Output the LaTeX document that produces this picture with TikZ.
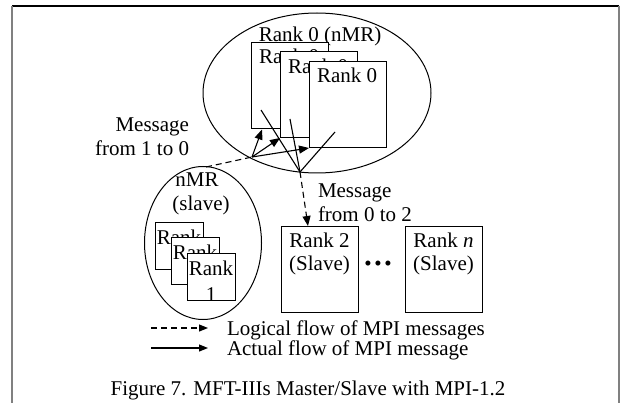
\documentclass[tikz,border=0pt]{standalone}
\usepackage{fontspec}
\setmainfont{Liberation Serif}
\usetikzlibrary{arrows.meta,shapes.geometric}
\begin{document}
\begin{tikzpicture}[x=1pt,y=-1pt,
  every node/.style={font=\fontsize{21}{26}\selectfont, inner sep=0pt, outer sep=0pt},
  box/.style={draw, fill=white, line width=1pt, anchor=north west, minimum width=77pt, minimum height=86pt},
  sbox/.style={draw, fill=white, line width=1pt, anchor=north west, minimum width=48pt, minimum height=47pt},
  ell/.style={draw, ellipse, line width=1pt},
  ln/.style={line width=1.1pt},
  tip/.style={-{Triangle[length=10pt,width=8pt]}},
  ltip/.style={-{Triangle[length=9pt,width=7pt]}},
  dsh/.style={dash pattern=on 6pt off 4pt, line width=1.1pt}]
\useasboundingbox (0,0) rectangle (620,403);
% frame
\draw[line width=1.5pt] (12,6) -- (619,6);
\draw[gray, line width=1.5pt] (12,6) -- (12,403);
\draw[gray, line width=1.5pt] (619,6) -- (619,403);
% master ellipse
\node[ell, minimum width=228pt, minimum height=160pt] (top) at (317,93) {};
\node[anchor=base] (toplbl) at (320,42) {Rank 0 (nMR)};
\node[box] (r0a) at (251,43) {};
\node[anchor=base west] (t0a) at (259,64) {Rank 0};
\node[box] (r0b) at (280,52) {};
\node[anchor=base west] (t0b) at (288,74) {Rank 0};
\node[box] (r0c) at (309,62) {};
\node[anchor=base west] (t0c) at (317,83) {Rank 0};
% slave ellipse
\node[ell, minimum width=117pt, minimum height=153pt] (slave) at (203,243) {};
\node[anchor=base] (sl1) at (197,187) {nMR};
\node[anchor=base] (sl2) at (201,211) {(slave)};
\node[sbox] (s1) at (155,222) {};
\node[anchor=base] (ts1a) at (179,244) {Rank};
\node[anchor=base] (ts1b) at (179,270) {1};
\node[sbox] (s2) at (171,237) {};
\node[anchor=base] (ts2a) at (195,259) {Rank};
\node[anchor=base] (ts2b) at (195,285) {1};
\node[sbox] (s3) at (187,253) {};
\node[anchor=base] (ts3a) at (211,275) {Rank};
\node[anchor=base] (ts3b) at (211,301) {1};
% slave boxes
\node[box] (r2) at (281,226) {};
\node[anchor=base] (t2a) at (319.5,247) {Rank 2};
\node[anchor=base] (t2b) at (319.5,270) {(Slave)};
\node[box] (rn) at (405,226) {};
\node[anchor=base] (tna) at (443.5,247) {Rank \textit{n}};
\node[anchor=base] (tnb) at (443.5,270) {(Slave)};
\node (dots) at (378,266) {•\hspace{2.6pt}•\hspace{2.6pt}•};
% message labels
\node[anchor=base east] (m1a) at (189,132) {Message};
\node[anchor=base east] (m1b) at (189,156) {from 1 to 0};
\node[anchor=base west] (m2a) at (318,197) {Message};
\node[anchor=base west] (m2b) at (318,222) {from 0 to 2};
% connectors
\coordinate (A) at (252,157);
\coordinate (B) at (300,172);
\coordinate (a1) at (262,129.5);
\coordinate (p1) at (261,110);
\coordinate (p2) at (290,119);
\coordinate (p3) at (335,132);
\coordinate (r2in) at (308,226);
\coordinate (sltop) at (206,167);
\draw[dsh] (sltop) -- (A);
\draw[ln,tip] (A) -- (a1);
\draw[ln,tip] (A) -- (r0b.south west);
\draw[ln,tip] (A) -- (r0c.south west);
\draw[ln] (p1) -- (B);
\draw[ln] (p2) -- (B);
\draw[ln] (p3) -- (B);
\draw[dsh,tip] (B) -- (r2in);
% legend
\coordinate (l1s) at (151,328);
\coordinate (l1e) at (208,328);
\coordinate (l2s) at (151,348);
\coordinate (l2e) at (208,348);
\draw[dsh,ltip] (l1s) -- (l1e);
\draw[ln,ltip] (l2s) -- (l2e);
\node[anchor=base west] (lg1) at (227,335) {Logical flow of MPI messages};
\node[anchor=base west] (lg2) at (227,355) {Actual flow of MPI message};
% caption
\node[anchor=base] (cap) at (308,395) {Figure 7. MFT-IIIs Master/Slave with MPI-1.2};
\end{tikzpicture}
\end{document}
